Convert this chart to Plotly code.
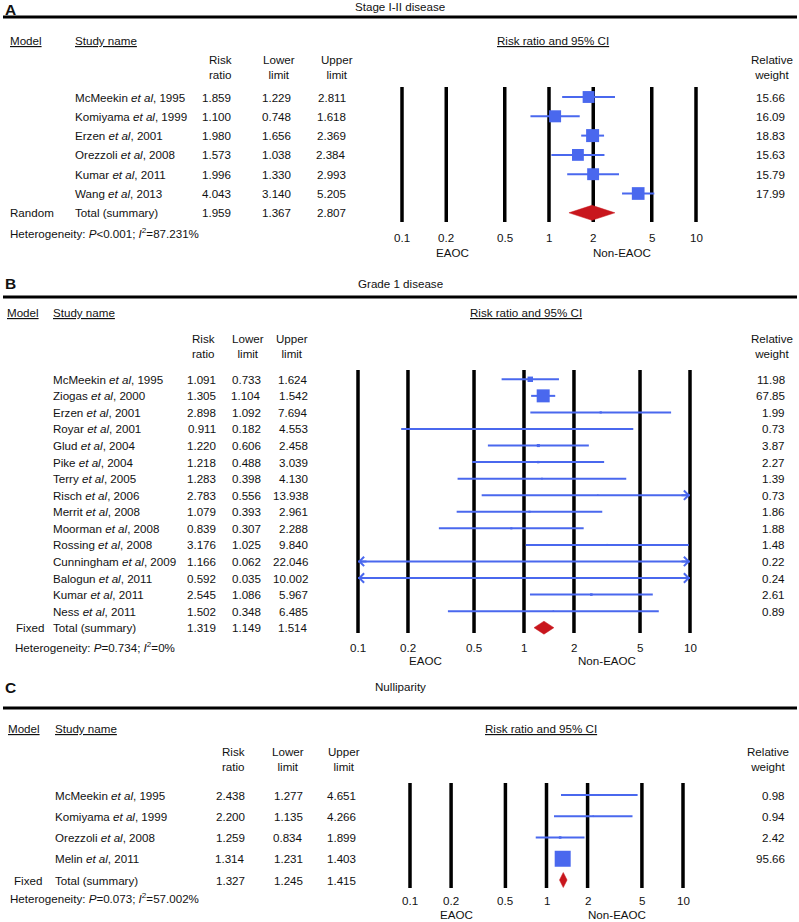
import math
import plotly.graph_objects as go

W, H = 799, 922

# ---------------- data ----------------
tick_vals = [0.1, 0.2, 0.5, 1, 2, 5, 10]
tick_text = ["0.1", "0.2", "0.5", "1", "2", "5", "10"]

# Panel A: Stage I-II disease
a_title = "Stage I-II disease"
a_authors = ["McMeekin", "Komiyama", "Erzen", "Orezzoli", "Kumar", "Wang"]
a_years = [1995, 1999, 2001, 2008, 2011, 2013]
a_rr = [1.859, 1.100, 1.980, 1.573, 1.996, 4.043]
a_lower = [1.229, 0.748, 1.656, 1.038, 1.330, 3.140]
a_upper = [2.811, 1.618, 2.369, 2.384, 2.993, 5.205]
a_weight = [15.66, 16.09, 18.83, 15.63, 15.79, 17.99]
a_total = [1.959, 1.367, 2.807]
a_model = "Random"
a_het_p = "<0.001"
a_het_i2 = "87.231"

# Panel B: Grade 1 disease
b_title = "Grade 1 disease"
b_authors = ["McMeekin", "Ziogas", "Erzen", "Royar", "Glud", "Pike", "Terry", "Risch",
             "Merrit", "Moorman", "Rossing", "Cunningham", "Balogun", "Kumar", "Ness"]
b_years = [1995, 2000, 2001, 2001, 2004, 2004, 2005, 2006, 2008, 2008, 2008, 2009, 2011, 2011, 2011]
b_rr = [1.091, 1.305, 2.898, 0.911, 1.220, 1.218, 1.283, 2.783, 1.079, 0.839, 3.176, 1.166, 0.592, 2.545, 1.502]
b_lower = [0.733, 1.104, 1.092, 0.182, 0.606, 0.488, 0.398, 0.556, 0.393, 0.307, 1.025, 0.062, 0.035, 1.086, 0.348]
b_upper = [1.624, 1.542, 7.694, 4.553, 2.458, 3.039, 4.130, 13.938, 2.961, 2.288, 9.840, 22.046, 10.002, 5.967, 6.485]
b_weight = [11.98, 67.85, 1.99, 0.73, 3.87, 2.27, 1.39, 0.73, 1.86, 1.88, 1.48, 0.22, 0.24, 2.61, 0.89]
b_total = [1.319, 1.149, 1.514]
b_model = "Fixed"
b_het_p = "=0.734"
b_het_i2 = "0"

# Panel C: Nulliparity
c_title = "Nulliparity"
c_authors = ["McMeekin", "Komiyama", "Orezzoli", "Melin"]
c_years = [1995, 1999, 2008, 2011]
c_rr = [2.438, 2.200, 1.259, 1.314]
c_lower = [1.277, 1.135, 0.834, 1.231]
c_upper = [4.651, 4.266, 1.899, 1.403]
c_weight = [0.98, 0.94, 2.42, 95.66]
c_total = [1.327, 1.245, 1.415]
c_model = "Fixed"
c_het_p = "=0.073"
c_het_i2 = "57.002"

# ---------------- layout / style (pixel geometry) ----------------
panel_layout = [
    dict(letter="A", letter_y=9, title_y=7, rule_y=17, head_y=41, ci_head_x=553,
         col_head_y=67, col_head_x=[220, 279, 337], val_right=[233, 293, 348],
         weight_head_x=772, study_x=73, model_head_x=8, model_x=8,
         first=97, dy=19.3, p01=402, dec=147, line_top=87, line_bottom=222,
         tick_y=237, eaoc_x=452, non_x=622, label_y=252, het_y=233, het_x=8,
         marker_max=13, diamond_half=7.5),
    dict(letter="B", letter_y=283, title_y=283, rule_y=297, head_y=312, ci_head_x=526,
         col_head_y=345.5, col_head_x=[203, 248, 292], val_right=[218, 263, 310],
         weight_head_x=772, study_x=51, model_head_x=5, model_x=14,
         first=379.3, dy=16.56, p01=358, dec=166, line_top=370, line_bottom=633,
         tick_y=647, eaoc_x=425, non_x=607, label_y=660, het_y=647, het_x=13,
         marker_max=13, diamond_half=6.5),
    dict(letter="C", letter_y=687, title_y=686, rule_y=708, head_y=728, ci_head_x=541,
         col_head_y=759, col_head_x=[233, 288, 344], val_right=[247, 305, 358],
         weight_head_x=768, study_x=53, model_head_x=6, model_x=12,
         first=795, dy=21.25, p01=410, dec=136.5, line_top=783, line_bottom=888,
         tick_y=900, eaoc_x=457, non_x=617, label_y=914.5, het_y=898, het_x=8,
         marker_max=16, diamond_half=7.5),
]

panel_data = [
    dict(title=a_title, authors=a_authors, years=a_years, rr=a_rr, lower=a_lower, upper=a_upper,
         weight=a_weight, total=a_total, model=a_model, het_p=a_het_p, het_i2=a_het_i2),
    dict(title=b_title, authors=b_authors, years=b_years, rr=b_rr, lower=b_lower, upper=b_upper,
         weight=b_weight, total=b_total, model=b_model, het_p=b_het_p, het_i2=b_het_i2),
    dict(title=c_title, authors=c_authors, years=c_years, rr=c_rr, lower=c_lower, upper=c_upper,
         weight=c_weight, total=c_total, model=c_model, het_p=c_het_p, het_i2=c_het_i2),
]

BLUE = "#4a68ee"
RED = "#c8161d"
TXT = "#111111"
FONT = "Liberation Sans, Arial, Helvetica, sans-serif"
FS = 11.6
WEIGHT_RIGHT = 787


def px(x):
    return x / W


def py(y):
    return 1 - y / H


fig = go.Figure()
annotations = []
shapes = []
layout_axes = {}


def ann(text, x, y, xref="paper", yref="paper", xanchor="left", size=FS, **kw):
    d = dict(text=text, x=x, y=y, xref=xref, yref=yref, xanchor=xanchor,
             yanchor="middle", showarrow=False,
             font=dict(family=FONT, size=size, color=TXT))
    if "font" in kw:
        d["font"].update(kw.pop("font"))
    d.update(kw)
    annotations.append(d)


lo_lim, hi_lim = tick_vals[0], tick_vals[-1]
lg0 = math.log10(lo_lim)

for k, (L, D) in enumerate(zip(panel_layout, panel_data)):
    sfx = "" if k == 0 else str(k + 1)
    xname, yname = "x" + sfx, "y" + sfx
    n = len(D["rr"])
    first, dy = L["first"], L["dy"]

    # axes mapping pixels -> data
    xr = [lg0 - L["p01"] / L["dec"], lg0 + (W - L["p01"]) / L["dec"]]
    yr = [(H - first) / dy, -first / dy]
    xa = dict(type="log", range=xr, domain=[0, 1], anchor=yname,
              visible=False, fixedrange=True)
    ya = dict(range=yr, domain=[0, 1], anchor=xname, visible=False, fixedrange=True)
    if k > 0:
        xa["overlaying"] = "x"
        ya["overlaying"] = "y"
    layout_axes["xaxis" + sfx] = xa
    layout_axes["yaxis" + sfx] = ya

    # vertical reference lines at tick values
    top_r = (L["line_top"] - first) / dy
    bot_r = (L["line_bottom"] - first) / dy
    vx, vy = [], []
    for t in tick_vals:
        vx += [t, t, None]
        vy += [top_r, bot_r, None]
    fig.add_trace(go.Scatter(x=vx, y=vy, mode="lines", xaxis=xname, yaxis=yname,
                             line=dict(color="black", width=3.5), hoverinfo="skip"))

    # CI lines (clipped to displayed range)
    cx, cy = [], []
    for i in range(n):
        cx += [max(D["lower"][i], lo_lim), min(D["upper"][i], hi_lim), None]
        cy += [i, i, None]
        if D["lower"][i] < lo_lim:
            annotations.append(dict(x=math.log10(lo_lim), y=i, xref=xname, yref=yname,
                                    text="", showarrow=True, arrowhead=4, arrowsize=0.9,
                                    arrowwidth=2, arrowcolor=BLUE, ax=10, ay=0))
        if D["upper"][i] > hi_lim:
            annotations.append(dict(x=math.log10(hi_lim), y=i, xref=xname, yref=yname,
                                    text="", showarrow=True, arrowhead=4, arrowsize=0.9,
                                    arrowwidth=2, arrowcolor=BLUE, ax=-10, ay=0))
    fig.add_trace(go.Scatter(x=cx, y=cy, mode="lines", xaxis=xname, yaxis=yname,
                             line=dict(color=BLUE, width=2), hoverinfo="skip"))

    # weight squares
    wmax = max(D["weight"])
    sizes = [L["marker_max"] * math.sqrt(w / wmax) for w in D["weight"]]
    fig.add_trace(go.Scatter(x=D["rr"], y=list(range(n)), mode="markers",
                             xaxis=xname, yaxis=yname,
                             marker=dict(symbol="square", size=sizes, color=BLUE,
                                         opacity=1, line=dict(width=0)),
                             hoverinfo="skip"))

    # summary diamond
    rr_t, lo_t, hi_t = D["total"]
    h = L["diamond_half"] / dy
    fig.add_trace(go.Scatter(x=[lo_t, rr_t, hi_t, rr_t, lo_t],
                             y=[n, n - h, n, n + h, n], mode="lines", fill="toself",
                             fillcolor=RED, line=dict(color=RED, width=0.5),
                             xaxis=xname, yaxis=yname, hoverinfo="skip"))

    # panel heading
    ann("<b>%s</b>" % L["letter"], px(3), py(L["letter_y"]), size=15.5)
    ann(D["title"], px(400), py(L["title_y"]), xanchor="center")
    shapes.append(dict(type="line", xref="paper", yref="paper", x0=px(3), x1=px(797),
                       y0=py(L["rule_y"]), y1=py(L["rule_y"]),
                       line=dict(color="black", width=3)))

    # column headers
    ann("Model", px(L["model_head_x"]), py(L["head_y"]), font=dict(lineposition="under"))
    ann("Study name", px(L["study_x"]), py(L["head_y"]), font=dict(lineposition="under"))
    ann("Risk ratio and 95% CI", px(L["ci_head_x"]), py(L["head_y"]), xanchor="center",
        font=dict(lineposition="under"))
    for lab, cxp in zip(["Risk<br>ratio", "Lower<br>limit", "Upper<br>limit"], L["col_head_x"]):
        ann(lab, px(cxp), py(L["col_head_y"]), xanchor="center")
    ann("Relative<br>weight", px(L["weight_head_x"]), py(L["col_head_y"]), xanchor="center")

    # study rows
    for i in range(n):
        ann("%s <i>et al</i>, %d" % (D["authors"][i], D["years"][i]), px(L["study_x"]), i,
            yref=yname)
        for val, xr_ in zip([D["rr"][i], D["lower"][i], D["upper"][i]], L["val_right"]):
            ann("%.3f" % val, px(xr_), i, yref=yname, xanchor="right")
        ann("%.2f" % D["weight"][i], px(WEIGHT_RIGHT), i, yref=yname, xanchor="right")

    # summary row
    ann(D["model"], px(L["model_x"]), n, yref=yname)
    ann("Total (summary)", px(L["study_x"]), n, yref=yname)
    for val, xr_ in zip(D["total"], L["val_right"]):
        ann("%.3f" % val, px(xr_), n, yref=yname, xanchor="right")

    # heterogeneity
    ann("Heterogeneity: <i>P</i>%s; <i>I</i><sup>2</sup>=%s%%"
        % (D["het_p"].replace("<", "&lt;"), D["het_i2"]),
        px(L["het_x"]), py(L["het_y"]))

    # tick labels
    for t, tt in zip(tick_vals, tick_text):
        ann(tt, math.log10(t), py(L["tick_y"]), xref=xname, xanchor="center")
    ann("EAOC", px(L["eaoc_x"]), py(L["label_y"]), xanchor="center")
    ann("Non-EAOC", px(L["non_x"]), py(L["label_y"]), xanchor="center")

fig.update_layout(
    width=W, height=H, autosize=False,
    margin=dict(l=0, r=0, t=0, b=0, pad=0),
    paper_bgcolor="white", plot_bgcolor="white",
    showlegend=False,
    annotations=annotations, shapes=shapes,
    **layout_axes,
)

fig.write_html("out.html", config={"displayModeBar": False},
               post_script="document.body.style.margin='0';document.body.style.overflow='hidden';")
